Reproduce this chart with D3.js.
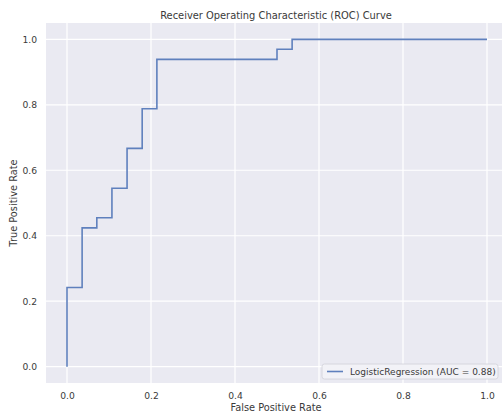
<!DOCTYPE html>
<html>
<head>
<meta charset="utf-8">
<script src="https://cdn.jsdelivr.net/npm/d3@7"></script>
<style>
  body { margin: 0; background: #fff; overflow: hidden; }
  text { font-family: "DejaVu Sans", sans-serif; fill: #3a3a3a; }
</style>
</head>
<body>
<div id="chart"></div>
<script>
// ROC points
const fpr = [0, 0, 0.036, 0.036, 0.071, 0.071, 0.107, 0.107, 0.143, 0.143,
             0.179, 0.179, 0.214, 0.214, 0.5, 0.5, 0.536, 0.536, 1];
const tpr = [0, 0.242, 0.242, 0.424, 0.424, 0.455, 0.455, 0.545, 0.545, 0.667,
             0.667, 0.788, 0.788, 0.939, 0.939, 0.970, 0.970, 1, 1];
const xTicks = [0, 0.2, 0.4, 0.6, 0.8, 1.0];
const yTicks = [0, 0.2, 0.4, 0.6, 0.8, 1.0];
const modelName = "LogisticRegression";
const auc = 0.88;

const width = 502, height = 416;
// plot area runs past the right edge of the picture (cropped figure)
const margin = { top: 23, left: 46, right: -6, bottom: 33 };

const svg = d3.select("#chart").append("svg")
  .attr("width", width)
  .attr("height", height);

const x = d3.scaleLinear()
  .domain([-0.05, 1.05])
  .range([margin.left, width - margin.right]);
const y = d3.scaleLinear()
  .domain([-0.05, 1.05])
  .range([height - margin.bottom, margin.top]);

// background
svg.append("rect")
  .attr("x", x(-0.05))
  .attr("y", y(1.05))
  .attr("width", x(1.05) - x(-0.05))
  .attr("height", y(-0.05) - y(1.05))
  .attr("fill", "#EAEAF2");

// grid
svg.append("g").selectAll("line")
  .data(xTicks).enter().append("line")
  .attr("x1", d => x(d)).attr("x2", d => x(d))
  .attr("y1", y(1.05)).attr("y2", y(-0.05))
  .attr("stroke", "#fff").attr("stroke-width", 1.2);
svg.append("g").selectAll("line")
  .data(yTicks).enter().append("line")
  .attr("y1", d => y(d)).attr("y2", d => y(d))
  .attr("x1", x(-0.05)).attr("x2", x(1.05))
  .attr("stroke", "#fff").attr("stroke-width", 1.2);

// axes (labels only, seaborn style)
const xAxis = svg.append("g")
  .attr("transform", `translate(0,${y(-0.05)})`)
  .call(d3.axisBottom(x).tickValues(xTicks).tickFormat(d3.format(".1f")).tickSize(0).tickPadding(9));
const yAxis = svg.append("g")
  .attr("transform", `translate(${x(-0.05)},0)`)
  .call(d3.axisLeft(y).tickValues(yTicks).tickFormat(d3.format(".1f")).tickSize(0).tickPadding(9));
[xAxis, yAxis].forEach(a => {
  a.select(".domain").remove();
  a.selectAll("text").attr("font-size", 9.2).attr("font-family", "DejaVu Sans").attr("fill", "#3a3a3a");
});

// ROC curve
const pts = fpr.map((f, i) => [f, tpr[i]]);
svg.append("path")
  .datum(pts)
  .attr("fill", "none")
  .attr("stroke", "#5f80bd")
  .attr("stroke-width", 1.6)
  .attr("d", d3.line().x(d => x(d[0])).y(d => y(d[1])));

// title and axis labels
svg.append("text")
  .attr("x", 276).attr("y", 18.5)
  .attr("text-anchor", "middle")
  .attr("font-size", 9.9)
  .text("Receiver Operating Characteristic (ROC) Curve");
svg.append("text")
  .attr("x", 276).attr("y", 411)
  .attr("text-anchor", "middle")
  .attr("font-size", 9.8)
  .text("False Positive Rate");
svg.append("text")
  .attr("transform", `translate(17,${y(0.5)}) rotate(-90)`)
  .attr("text-anchor", "middle")
  .attr("font-size", 9.8)
  .text("True Positive Rate");

// legend
const legend = svg.append("g").attr("transform", "translate(322,364)");
legend.append("rect")
  .attr("width", 176).attr("height", 15)
  .attr("rx", 2.5)
  .attr("fill", "#f2f2f7")
  .attr("stroke", "#d0d0d8")
  .attr("stroke-width", 0.8);
legend.append("line")
  .attr("x1", 5).attr("x2", 21)
  .attr("y1", 7.5).attr("y2", 7.5)
  .attr("stroke", "#5f80bd").attr("stroke-width", 1.6);
legend.append("text")
  .attr("x", 28).attr("y", 11)
  .attr("font-size", 9)
  .text(`${modelName} (AUC = ${auc.toFixed(2)})`);
</script>
</body>
</html>
